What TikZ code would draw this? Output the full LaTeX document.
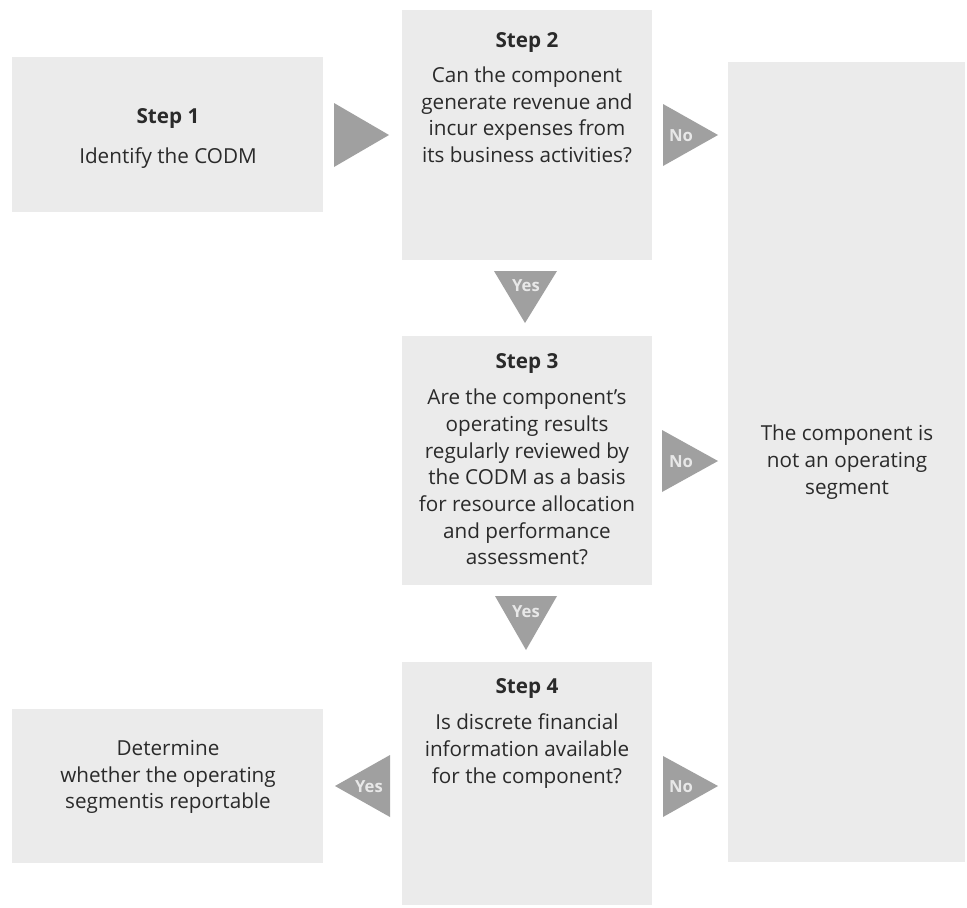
\documentclass[tikz,border=0pt]{standalone}
\usepackage{fontspec}
\setmainfont{Open Sans}
\usetikzlibrary{fit}
\definecolor{boxgray}{HTML}{EBEBEB}
\definecolor{arrowgray}{HTML}{A0A0A0}
\definecolor{inkgray}{HTML}{2A2A2A}
\definecolor{tiplabel}{HTML}{E8E8E8}
\begin{document}
\begin{tikzpicture}[x=0.75pt,y=-0.75pt,
  panel/.style={fill=boxgray,draw=none,inner sep=0pt},
  body/.style={anchor=north,inner sep=0pt,align=center,text=inkgray,
    font=\fontsize{15.5}{20}\selectfont},
  marker/.style={fill=arrowgray,draw=none},
  answer/.style={inner sep=0pt,text=tiplabel,font=\fontsize{12.5}{14}\selectfont\bfseries}]
\useasboundingbox (0,0) rectangle (967,907);
\fill[white] (0,0) rectangle (967,907);

% boxes
\node[panel,fit={(12,57) (323,212)}] (s1) {};
\node[panel,fit={(402,10) (652,260)}] (s2) {};
\node[panel,fit={(402,336) (652,585)}] (s3) {};
\node[panel,fit={(402,662) (652,905)}] (s4) {};
\node[panel,fit={(728,62) (965,862)}] (seg) {};
\node[panel,fit={(12,709) (323,863)}] (rep) {};

% texts
\node[body] (s1t) at (168,108) {\textbf{Step 1}\\[10.5pt]Identify the CODM};
\node[body] (s2t) at (527,32) {\textbf{Step 2}\\[6.5pt]Can the component\\generate revenue and\\incur expenses from\\its business activities?};
\node[body] (s3t) at (527,353) {\textbf{Step 3}\\[7.5pt]Are the component’s\\operating results\\regularly reviewed by\\the CODM as a basis\\for resource allocation\\and performance\\assessment?};
\node[body] (s4t) at (527,678) {\textbf{Step 4}\\[7.5pt]Is discrete financial\\information available\\for the component?};
\node[body] (segt) at (847,425) {The component is\\not an operating\\segment};
\node[body] (rept) at (168,740) {Determine\\whether the operating\\segmentis reportable};

% arrow markers between the boxes
\fill[marker] (334,103) -- (389,135) -- (334,167) -- cycle;
\fill[marker] (663,104) -- (718,135) -- (663,166) -- cycle;
\fill[marker] (494,271) -- (557,271) -- (525,323) -- cycle;
\fill[marker] (662,430) -- (718,461) -- (662,492) -- cycle;
\fill[marker] (495,596) -- (557,596) -- (526,650) -- cycle;
\fill[marker] (663,756) -- (718,786) -- (663,817) -- cycle;
\fill[marker] (390,755) -- (335,786) -- (390,817) -- cycle;

% answer labels on the markers
\node[answer] (no1) at (681,136) {No};
\node[answer] (no2) at (681,462) {No};
\node[answer] (no3) at (681,787) {No};
\node[answer] (yes1) at (526,286) {Yes};
\node[answer] (yes2) at (526,612) {Yes};
\node[answer] (yes3) at (369,787) {Yes};
\end{tikzpicture}
\end{document}
